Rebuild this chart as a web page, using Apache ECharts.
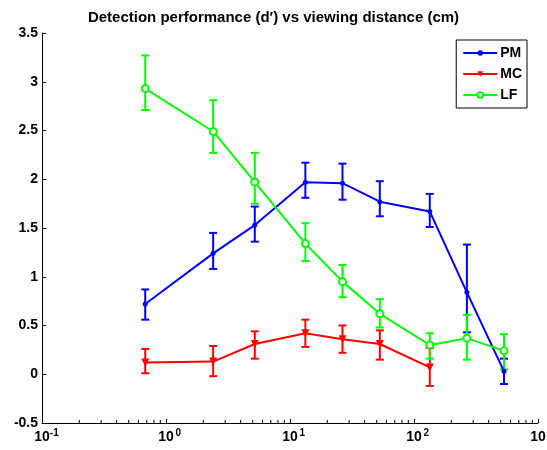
<!DOCTYPE html>
<html>
<head>
<meta charset="utf-8">
<style>
  html, body { margin: 0; padding: 0; background: #fff; }
  #chart { width: 547px; height: 450px; }
</style>
<script src="https://cdn.jsdelivr.net/npm/echarts@6/dist/echarts.min.js"></script>
</head>
<body>
<div id="chart"></div>
<script>
// Viewing distance (cm) for each condition
const distances = [0.68, 2.4, 5.2, 13.3, 26.5, 53, 134, 267, 532];

// PM: mean d' with lower / upper error limits
const pmMean = [0.72, 1.24, 1.53, 1.97, 1.96, 1.77, 1.67, 0.84, 0.03];
const pmLow  = [0.56, 1.08, 1.36, 1.81, 1.79, 1.62, 1.51, 0.43, -0.10];
const pmHigh = [0.87, 1.45, 1.72, 2.17, 2.16, 1.98, 1.85, 1.33, 0.16];

// MC: measured at the first seven distances only
const mcMean = [0.12, 0.13, 0.31, 0.42, 0.36, 0.31, 0.07];
const mcLow  = [0.01, -0.02, 0.16, 0.28, 0.22, 0.15, -0.12];
const mcHigh = [0.26, 0.29, 0.44, 0.56, 0.50, 0.45, 0.27];

// LF
const lfMean = [2.93, 2.49, 1.97, 1.34, 0.95, 0.62, 0.30, 0.37, 0.24];
const lfLow  = [2.71, 2.27, 1.75, 1.16, 0.79, 0.48, 0.16, 0.15, 0.05];
const lfHigh = [3.27, 2.81, 2.27, 1.55, 1.12, 0.77, 0.42, 0.61, 0.41];

// Axis settings
const xDecades = [-1, 0, 1, 2];          // decades spanned by the log axis
const minorMultipliers = [2, 3, 4, 5, 6, 7, 8, 9];
const yMin = -0.5, yMax = 3.5, yStep = 0.5;

const FONT = '"Liberation Sans", Arial, Helvetica, sans-serif';
const BLUE = '#0000ff', RED = '#ff0000', GREEN = '#00ff00';

function pairs(xs, ys) {
  return ys.map((y, i) => [xs[i], y]);
}
function errRows(xs, lo, hi) {
  return lo.map((l, i) => [xs[i], l, hi[i]]);
}

// Minor tick values at 2..9 x 10^k for a MATLAB-style log axis
const minorTickValues = [];
xDecades.forEach(k => minorMultipliers.forEach(m => minorTickValues.push(m * Math.pow(10, k))));

function errorBarSeries(color, rows) {
  return {
    type: 'custom',
    silent: true,
    z: 3,
    renderItem: function (params, api) {
      const x = api.value(0);
      const lo = api.coord([x, api.value(1)]);
      const hi = api.coord([x, api.value(2)]);
      const cap = 4;
      const style = { stroke: color, lineWidth: 2 };
      return {
        type: 'group',
        children: [
          { type: 'line', shape: { x1: lo[0], y1: lo[1], x2: hi[0], y2: hi[1] }, style: style },
          { type: 'line', shape: { x1: lo[0] - cap, y1: lo[1], x2: lo[0] + cap, y2: lo[1] }, style: style },
          { type: 'line', shape: { x1: hi[0] - cap, y1: hi[1], x2: hi[0] + cap, y2: hi[1] }, style: style }
        ]
      };
    },
    data: errRows.apply(null, rows),
    encode: { x: 0, y: [1, 2] }
  };
}

const chart = echarts.init(document.getElementById('chart'), null, { renderer: 'canvas' });

chart.setOption({
  animation: false,
  backgroundColor: '#ffffff',
  title: {
    text: 'Detection performance (d\u2032) vs viewing distance (cm)',
    left: 'center',
    top: 5,
    textStyle: { fontFamily: FONT, fontSize: 15, fontWeight: 'bold', color: '#000' }
  },
  legend: {
    orient: 'vertical',
    right: 20,
    top: 40,
    padding: [6, 5, 6, 6],
    itemGap: 7,
    itemWidth: 34,
    itemHeight: 7,
    borderColor: '#000',
    borderWidth: 1,
    borderRadius: 0,
    backgroundColor: '#fff',
    data: ['PM', 'MC', 'LF'],
    textStyle: { fontFamily: FONT, fontSize: 14, fontWeight: 'bold', color: '#000', padding: [0, 0, 0, -2] }
  },
  grid: { left: 42, right: 9, top: 33, bottom: 27, containLabel: false, outerBoundsMode: 'none' },
  xAxis: {
    type: 'log',
    logBase: 10,
    min: 0.1,
    max: 1000,
    axisLine: { onZero: false, lineStyle: { color: '#000', width: 1 } },
    axisTick: { inside: true, length: 4, lineStyle: { color: '#000' } },
    splitLine: { show: false },
    axisLabel: {
      margin: 5,
      color: '#000',
      formatter: function (v) {
        const e = Math.round(Math.log10(v));
        // empty spacer on the left keeps the "10" centred under its tick
        return '{p|}{b|10}{s|' + e + '}';
      },
      rich: {
        p: { width: 9, fontSize: 14 },
        b: { fontFamily: FONT, fontSize: 14, fontWeight: 'bold', color: '#000' },
        s: { fontFamily: FONT, fontSize: 10, fontWeight: 'bold', color: '#000', width: 9, align: 'left', padding: [0, 0, 8, 0] }
      }
    }
  },
  yAxis: {
    type: 'value',
    min: yMin,
    max: yMax,
    interval: yStep,
    axisLine: { show: true, onZero: false, lineStyle: { color: '#000', width: 1 } },
    axisTick: { show: true, inside: true, length: 4, lineStyle: { color: '#000' } },
    splitLine: { show: false },
    axisLabel: {
      margin: 4,
      color: '#000',
      fontFamily: FONT,
      fontSize: 14,
      fontWeight: 'bold',
      formatter: function (v) { return String(Math.round(v * 10) / 10); }
    }
  },
  series: [
    // minor ticks along the log axis
    {
      type: 'custom',
      silent: true,
      z: 1,
      renderItem: function (params, api) {
        const p = api.coord([api.value(0), yMin]);
        return {
          type: 'line',
          shape: { x1: p[0], y1: p[1], x2: p[0], y2: p[1] - 3 },
          style: { stroke: '#000', lineWidth: 1 }
        };
      },
      data: minorTickValues.map(v => [v, yMin]),
      encode: { x: 0, y: 1 }
    },
    errorBarSeries(BLUE, [distances, pmLow, pmHigh]),
    {
      name: 'PM',
      type: 'line',
      data: pairs(distances, pmMean),
      symbol: 'circle',
      symbolSize: 5,
      lineStyle: { color: BLUE, width: 2 },
      itemStyle: { color: BLUE },
      z: 4
    },
    errorBarSeries(RED, [distances, mcLow, mcHigh]),
    {
      name: 'MC',
      type: 'line',
      data: pairs(distances, mcMean),
      symbol: 'triangle',
      symbolRotate: 180,
      symbolSize: 8,
      lineStyle: { color: RED, width: 2 },
      itemStyle: { color: RED },
      z: 4
    },
    errorBarSeries(GREEN, [distances, lfLow, lfHigh]),
    {
      name: 'LF',
      type: 'line',
      data: pairs(distances, lfMean),
      symbol: 'emptyCircle',
      symbolSize: 7,
      lineStyle: { color: GREEN, width: 2 },
      itemStyle: { color: GREEN, borderColor: GREEN, borderWidth: 2 },
      z: 4
    }
  ]
});
</script>
</body>
</html>
